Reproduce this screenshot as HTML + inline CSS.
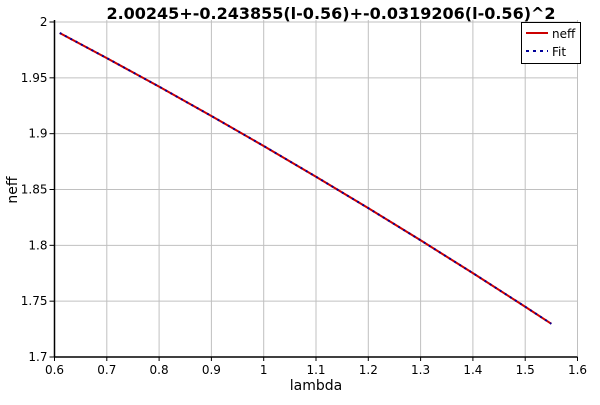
<!DOCTYPE html>
<html><head><meta charset="utf-8"><style>
body{margin:0;background:#fff;width:600px;height:400px;overflow:hidden}
svg text{font-family:"DejaVu Sans","Liberation Sans",sans-serif}
</style></head><body>
<svg width="600" height="400">
<g id="grid"></g>
<g id="axes"></g>
<g id="series"></g>
<text x="331" y="19" text-anchor="middle" font-size="16" font-weight="bold">2.00245+-0.243855(l-0.56)+-0.0319206(l-0.56)^2</text>
<text x="316" y="390" text-anchor="middle" font-size="14">lambda</text>
<text x="17" y="190" text-anchor="middle" font-size="14" transform="rotate(-90 17 190)">neff</text>
<g>
<rect x="521.5" y="22.5" width="59" height="41" fill="#fff" stroke="#000"/>
<line x1="526" y1="33" x2="548" y2="33" stroke="#cc0000" stroke-width="2"/>
<text x="552" y="38" font-size="12">neff</text>
<line x1="526" y1="51" x2="548" y2="51" stroke="#000099" stroke-width="2" stroke-dasharray="3,4"/>
<text x="552" y="56" font-size="12">Fit</text>
</g>
</svg>
<script>
const lambdas=[0.61,0.7,0.8,0.9,1.0,1.1,1.2,1.3,1.4,1.5,1.55];
const neff=[1.99018,1.96768,1.94209,1.91585,1.88897,1.86146,1.83331,1.80452,1.77509,1.74502,1.72975];
const fit=[1.99018,1.96768,1.94209,1.91585,1.88897,1.86146,1.83331,1.80452,1.77509,1.74502,1.72975];
const xTicks=[0.6,0.7,0.8,0.9,1,1.1,1.2,1.3,1.4,1.5,1.6];
const xTickLabels=["0.6","0.7","0.8","0.9","1","1.1","1.2","1.3","1.4","1.5","1.6"];
const yTicks=[1.7,1.75,1.8,1.85,1.9,1.95,2];
const yTickLabels=["1.7","1.75","1.8","1.85","1.9","1.95","2"];
const L=54.5,R=577.5,T=22,B=357;
const xs=v=>L+(v-0.6)/1.0*(R-L);
const ys=v=>B-(v-1.7)/0.3*(B-T);
const NS="http://www.w3.org/2000/svg";
function mk(p,tag,a){const e=document.createElementNS(NS,tag);for(const k in a)e.setAttribute(k,a[k]);p.appendChild(e);return e;}
const g=document.getElementById('grid'),ax=document.getElementById('axes'),s=document.getElementById('series');
xTicks.forEach((v,i)=>{
 if(i>0){const l=mk(g,'line',{x1:xs(v),x2:xs(v),y1:T-2,y2:B,stroke:'#c0c0c0'});
 
 }
 const t=mk(ax,'line',{x1:xs(v),x2:xs(v),y1:B,y2:B+4,stroke:'#000'});
 
 
 const tx=mk(ax,'text',{x:xs(v),y:B+17,'text-anchor':'middle','font-size':'12'});tx.textContent=xTickLabels[i];
 
 
});
yTicks.forEach((v,i)=>{
 if(i>0){const l=mk(g,'line',{x1:L,x2:R,y1:ys(v),y2:ys(v),stroke:'#c0c0c0'});
 
 }
 const t=mk(ax,'line',{x1:L-5,x2:L,y1:ys(v),y2:ys(v),stroke:'#000'});
 
 
 const tx=mk(ax,'text',{x:L-7,y:ys(v)+4,'text-anchor':'end','font-size':'12'});tx.textContent=yTickLabels[i];
 
 
});
const xa=mk(ax,'line',{x1:L,x2:R,y1:B,y2:B,stroke:'#000','stroke-width':1.5});


const ya=mk(ax,'line',{x1:L,x2:L,y1:T-2,y2:B,stroke:'#000','stroke-width':1.5});


const pts=a=>lambdas.map((l,i)=>xs(l)+','+ys(a[i])).join(' ');
const p1=mk(s,'polyline',{points:pts(neff),fill:'none',stroke:'#cc0000','stroke-width':2});


const p2=mk(s,'polyline',{points:pts(fit),fill:'none',stroke:'#000099','stroke-width':2,'stroke-dasharray':'2,4'});


</script>
</body></html>
